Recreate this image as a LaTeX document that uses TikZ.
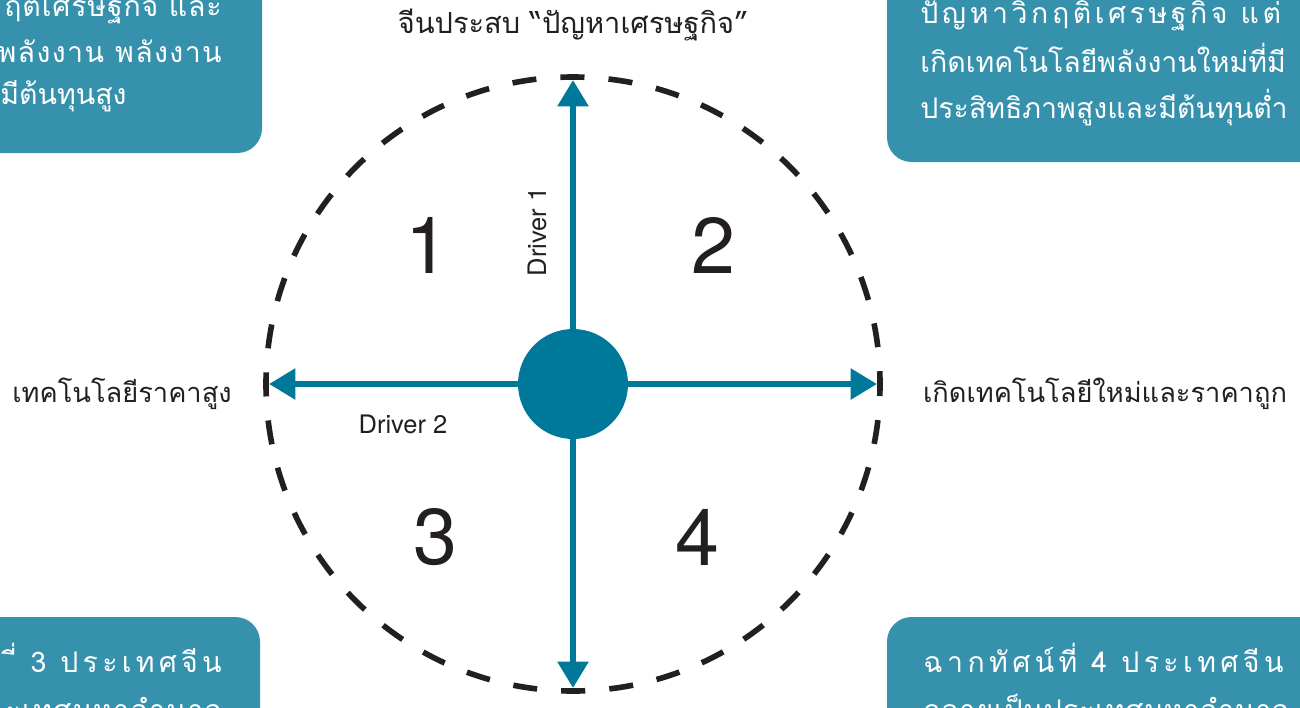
\documentclass[tikz,border=0pt]{standalone}
\usepackage{fontspec}
\setmainfont{TeX Gyre Heros}
\newfontfamily\thaifont[Script=Thai]{Loma}
\usetikzlibrary{arrows.meta}
\definecolor{drivecol}{HTML}{00789A}
\definecolor{boxcol}{HTML}{3691AD}
\definecolor{inkcol}{HTML}{231F20}
\newcommand{\spread}[1]{\addfontfeature{LetterSpace=#1}}
\tikzset{
  ring/.style={draw=inkcol, line width=3.2pt, dash pattern=on 13.72pt off 13.72pt, dash phase=6.86pt},
  axis/.style={draw=drivecol, line width=3.4pt, -{Triangle[width=17pt,length=15pt]}},
  hub/.style={circle, fill=drivecol, minimum size=2.2cm, inner sep=0pt},
  quad/.style={text=inkcol, font=\fontsize{45}{54}\selectfont},
  driver/.style={text=inkcol, font=\fontsize{14.5}{17}\selectfont},
  thlabel/.style={text=inkcol, anchor=base, font=\thaifont\fontsize{15.5}{19}\selectfont},
  scenario/.style={fill=boxcol, rounded corners=14pt},
  boxline/.style={text=white, inner sep=0pt, font=\thaifont\fontsize{16.2}{20}\selectfont}
}
\begin{document}
\begin{tikzpicture}[x=0.02cm, y=-0.02cm]
  \useasboundingbox (0,0) rectangle (1300,707);
  \clip (0,0) rectangle (1300,707);
  % scenario boxes, cut by the page edge
  \fill[scenario] (-200,-60) rectangle (262,153);
  \fill[scenario] (887,-60) rectangle (1360,162);
  \fill[scenario] (-200,617) rectangle (260,780);
  \fill[scenario] (887,617) rectangle (1360,780);
  \node[boxline, anchor=base east] (tl1) at (222,16) {\spread{3}ฤติเศรษฐกิจ และ};
  \node[boxline, anchor=base east] (tl2) at (222,62) {\spread{5}พลังงาน พลังงาน};
  \node[boxline, anchor=base west] (tl3) at (0,104) {มีต้นทุนสูง};
  \node[boxline, anchor=base west] (tr1) at (920,23) {\spread{12.5}ปัญหาวิกฤติเศรษฐกิจ แต่};
  \node[boxline, anchor=base west] (tr2) at (920,72) {เกิดเทคโนโลยีพลังงานใหม่ที่มี};
  \node[boxline, anchor=base west] (tr3) at (920,118) {ประสิทธิภาพสูงและมีต้นทุนต่ำ};
  \node[boxline, anchor=base east] (bl1) at (222,672) {\spread{15}ี่ 3 ประเทศจีน};
  \node[boxline, anchor=base east] (bl2) at (222,720) {\spread{5}ะเทศมหาอำนาจ};
  \node[boxline, anchor=base west] (br1) at (923,672) {\spread{15.5}ฉากทัศน์ที่ 4 ประเทศจีน};
  \node[boxline, anchor=base west] (br2) at (923,720) {\spread{3}กลายเป็นประเทศมหาอำนาจ};
  % dashed ring and the two drivers
  \draw[ring] (573,384) circle [radius=307];
  \node[hub] (hub) at (573,384) {};
  \coordinate (n) at (573,80);
  \coordinate (s) at (573,688);
  \coordinate (w) at (269,384);
  \coordinate (e) at (877,384);
  \draw[axis] (hub) -- (n);
  \draw[axis] (hub) -- (s);
  \draw[axis] (hub) -- (w);
  \draw[axis] (hub) -- (e);
  \node[driver, rotate=90] (d1) at (537,232) {Driver 1};
  \node[driver] (d2) at (403,424) {Driver 2};
  \node[quad] (q1) at (427,245) {1};
  \node[quad] (q2) at (713,245) {2};
  \node[quad] (q3) at (435,537) {3};
  \node[quad] (q4) at (697,537) {4};
  \node[thlabel, font=\thaifont\fontsize{16.5}{20}\selectfont] (top) at (573,33) {จีนประสบ “ปัญหาเศรษฐกิจ”};
  \node[thlabel] (left) at (122,402) {เทคโนโลยีราคาสูง};
  \node[thlabel] (right) at (1105,402) {เกิดเทคโนโลยีใหม่และราคาถูก};
\end{tikzpicture}
\end{document}
